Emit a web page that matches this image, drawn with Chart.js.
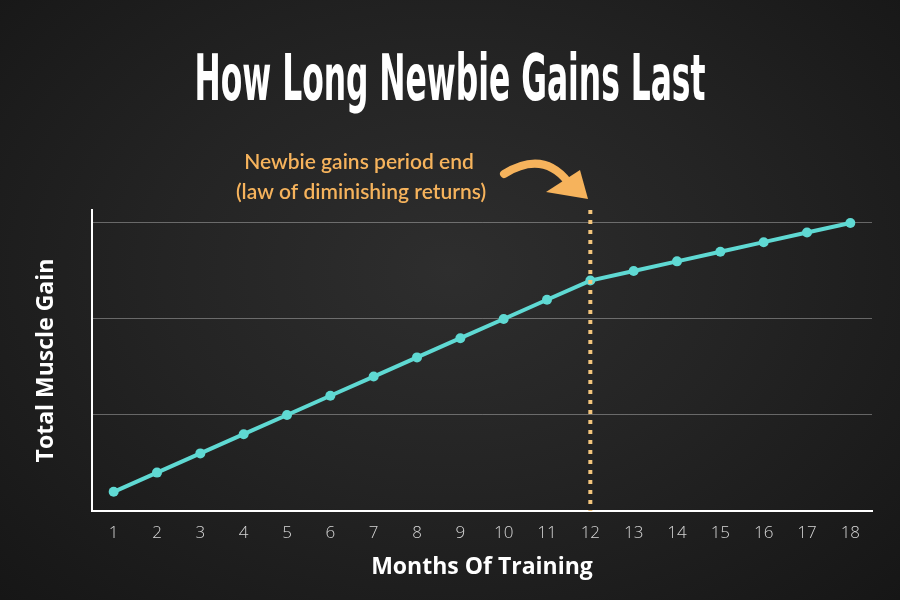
<!DOCTYPE html>
<html>
<head>
<meta charset="utf-8">
<script src="https://cdn.jsdelivr.net/npm/chart.js@4"></script>
<style>
  html, body { margin: 0; padding: 0; }
  body {
    width: 900px; height: 600px; overflow: hidden;
    background: radial-gradient(ellipse at 50% 45%, #2e2e2e 0%, #242424 45%, #161616 100%);
  }
  canvas { display: block; }
</style>
</head>
<body>
<canvas id="chart" width="900" height="600"></canvas>
<script>
// months on the x axis
var months = ['1', '2', '3', '4', '5', '6', '7', '8', '9', '10', '11', '12', '13', '14', '15', '16', '17', '18'];
// total muscle gain (arbitrary units)
var gain = [0.2, 0.4, 0.6, 0.8, 1.0, 1.2, 1.4, 1.6, 1.8, 2.0, 2.2, 2.4, 2.5, 2.6, 2.7, 2.8, 2.9, 3.0];
var gridValues = [1, 2, 3];
var endMonth = '12';

var titleText = 'How Long Newbie Gains Last';
var noteLines = ['Newbie gains period end', '(law of diminishing returns)'];

var orange = '#f6b35c';
var teal = '#5fd9d3';

// title, note, arrow and dotted marker
var decor = {
    id: 'decor',
    afterDatasetsDraw: function (chart) {
        var ctx = chart.ctx;
        var area = chart.chartArea;
        var x = chart.scales.x.getPixelForValue(months.indexOf(endMonth));

        // dotted line at month 12
        ctx.save();
        ctx.strokeStyle = '#f3c57c';
        ctx.lineWidth = 4;
        ctx.setLineDash([4, 6]);
        ctx.beginPath();
        ctx.moveTo(x, area.top);
        ctx.lineTo(x, area.bottom);
        ctx.stroke();
        ctx.restore();

        // title
        ctx.save();
        ctx.fillStyle = '#ffffff';
        ctx.textAlign = 'center';
        ctx.textBaseline = 'alphabetic';
        ctx.font = 'bold 64px "Liberation Sans Narrow", "DejaVu Sans Condensed", sans-serif';
        ctx.fillText(titleText, 450, 100, 511);
        ctx.restore();

        // note
        ctx.save();
        ctx.fillStyle = orange;
        ctx.textAlign = 'center';
        ctx.font = '600 21px "Lato", sans-serif';
        ctx.fillText(noteLines[0], 359, 169, 230);
        ctx.fillText(noteLines[1], 361, 199, 262);

        // curved arrow
        ctx.strokeStyle = orange;
        ctx.lineWidth = 8;
        ctx.lineCap = 'round';
        ctx.beginPath();
        ctx.moveTo(504, 174);
        ctx.quadraticCurveTo(543, 150, 568, 182);
        ctx.stroke();
        ctx.fillStyle = orange;
        ctx.beginPath();
        ctx.moveTo(588, 199);
        ctx.lineTo(546, 192);
        ctx.lineTo(580, 170);
        ctx.closePath();
        ctx.fill();
        ctx.restore();
    }
};

new Chart(document.getElementById('chart'), {
    type: 'line',
    data: {
        labels: months,
        datasets: [{
            data: gain,
            borderColor: teal,
            backgroundColor: teal,
            borderWidth: 4,
            pointRadius: 5,
            pointBorderWidth: 0,
            pointBackgroundColor: teal,
            tension: 0
        }]
    },
    options: {
        responsive: false,
        animation: false,
        layout: { padding: { top: 210, right: 28, left: 0, bottom: 0 } },
        plugins: {
            legend: { display: false },
            tooltip: { enabled: false }
        },
        scales: {
            x: {
                offset: true,
                grid: { display: false, drawTicks: false },
                border: { display: true, color: '#ffffff', width: 2 },
                ticks: {
                    color: '#d6d6d6',
                    padding: 12,
                    font: { family: '"Open Sans", sans-serif', size: 17, weight: '300' }
                },
                title: {
                    display: true,
                    text: 'Months Of Training',
                    color: '#ffffff',
                    padding: { top: 0, bottom: 19 },
                    font: { family: '"Open Sans", sans-serif', size: 23, weight: 'bold' }
                },
                afterFit: function (scale) { scale.height = 89; }
            },
            y: {
                min: 0,
                max: 3.135,
                afterBuildTicks: function (scale) {
                    scale.ticks = gridValues.map(function (v) { return { value: v }; });
                },
                grid: { color: 'rgba(255,255,255,0.32)', lineWidth: 1, drawTicks: false },
                border: { display: true, color: '#ffffff', width: 2 },
                ticks: { display: false },
                title: {
                    display: true,
                    text: 'Total Muscle Gain',
                    color: '#ffffff',
                    padding: { top: 33, bottom: 0 },
                    font: { family: '"Open Sans", sans-serif', size: 23, weight: 'bold' }
                },
                afterFit: function (scale) { scale.width = 92; }
            }
        }
    },
    plugins: [decor]
});
</script>
</body>
</html>
